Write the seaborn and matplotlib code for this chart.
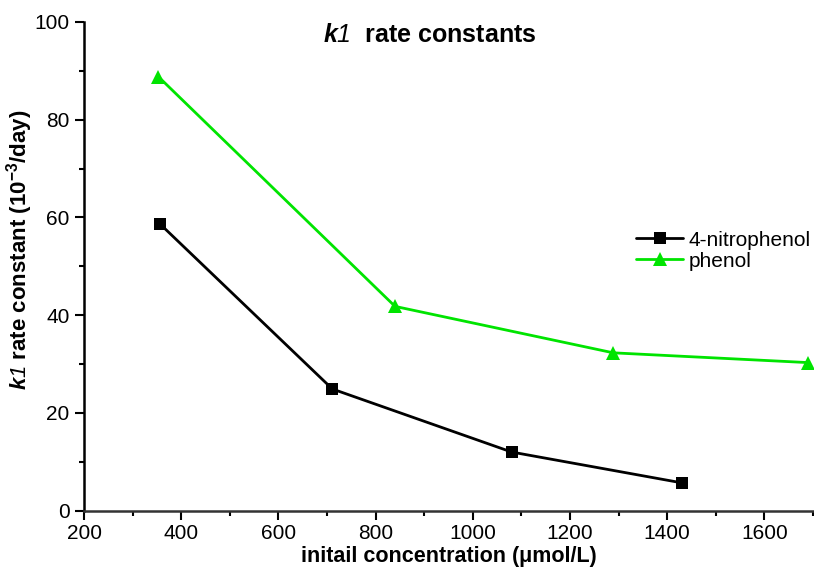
import matplotlib
matplotlib.use("Agg")
import matplotlib.pyplot as plt
from matplotlib.ticker import MultipleLocator
import seaborn as sns
import pandas as pd

# Rate constants versus initial concentration
nitro_conc = [356, 711, 1080, 1430]
nitro_k1 = [58.7, 24.9, 12.0, 5.7]
phenol_conc = [353, 840, 1289, 1690]
phenol_k1 = [88.8, 41.8, 32.3, 30.3]
series_names = ["4-nitrophenol", "phenol"]

sns.set_style("ticks")
plt.rcParams["font.family"] = ["Liberation Sans", "DejaVu Sans"]
plt.rcParams["mathtext.fontset"] = "custom"
plt.rcParams["mathtext.it"] = "Liberation Sans:italic:bold"
plt.rcParams["mathtext.sf"] = "Liberation Sans:italic"
plt.rcParams["mathtext.rm"] = "Liberation Sans:bold"
plt.rcParams["mathtext.bf"] = "Liberation Sans:bold"
for key in ("text.color", "axes.labelcolor", "xtick.color", "ytick.color",
            "axes.edgecolor"):
    plt.rcParams[key] = "black"

df = pd.concat([
    pd.DataFrame({"conc": nitro_conc, "k1": nitro_k1, "compound": series_names[0]}),
    pd.DataFrame({"conc": phenol_conc, "k1": phenol_k1, "compound": series_names[1]}),
])

fig = plt.figure(figsize=(8.14, 5.71), dpi=100)
ax = fig.add_axes([0.1032, 0.1056, 0.8968, 0.856])

palette = {series_names[0]: "#000000", series_names[1]: "#00e400"}
markers = {series_names[0]: "s", series_names[1]: "^"}
sns.lineplot(data=df, x="conc", y="k1", hue="compound", style="compound",
             palette=palette, markers=markers, dashes=False, sort=False,
             markersize=8, linewidth=2, markeredgewidth=0, ax=ax)

# triangles read smaller than squares at equal size, so enlarge them
handles, labels = ax.get_legend_handles_labels()
for artist in list(ax.lines) + list(handles):
    if artist.get_marker() == "^":
        artist.set_markersize(10)

ax.set_xlim(200, 1702)
ax.set_ylim(0, 100)
ax.xaxis.set_major_locator(MultipleLocator(200))
ax.xaxis.set_minor_locator(MultipleLocator(100))
ax.yaxis.set_major_locator(MultipleLocator(20))
ax.yaxis.set_minor_locator(MultipleLocator(10))
ax.tick_params(which="major", direction="out", length=6.5, width=1.5,
               labelsize=15)
ax.tick_params(axis="x", which="major", pad=3)
ax.tick_params(axis="y", which="major", pad=4)
ax.tick_params(which="minor", direction="out", length=3.5, width=1.5)

for side in ("top", "right"):
    ax.spines[side].set_visible(False)
for side in ("left", "bottom"):
    ax.spines[side].set_linewidth(1.8)
ax.spines["bottom"].set_color("#333333")

ax.set_xlabel("initail concentration (μmol/L)", fontsize=15.5, fontweight="bold",
              labelpad=2)
ax.set_ylabel(r"$k\mathsf{1}$ rate constant (10$^{-3}$/day)", fontsize=16,
              fontweight="bold")
ax.yaxis.set_label_coords(-0.067, 0.533)

ax.text(0.474, 0.998, r"$k\mathsf{1}$  rate constants", transform=ax.transAxes,
        ha="center", va="top", fontsize=18, fontweight="bold")

ax.legend(handles=handles, labels=labels, loc="upper left",
          bbox_to_anchor=(0.745, 0.59), frameon=False, fontsize=15,
          handlelength=2.25, handletextpad=0.25, labelspacing=0.1,
          borderaxespad=0)

fig.savefig("out.png", dpi=100)
